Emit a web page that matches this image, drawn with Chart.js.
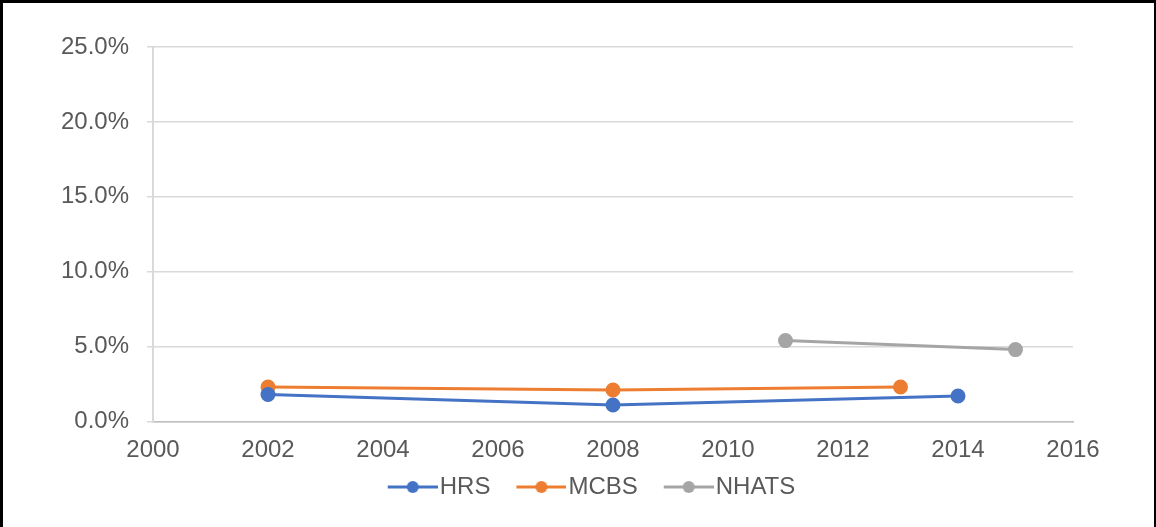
<!DOCTYPE html>
<html>
<head>
<meta charset="utf-8">
<script src="https://cdn.jsdelivr.net/npm/chart.js@4"></script>
<style>
  html, body { margin: 0; padding: 0; background: #fff; }
  #wrap { position: relative; width: 1156px; height: 527px; }
  #frame { position: absolute; left: 0; top: 0; width: 1156px; height: 527px; box-sizing: border-box;
           border-top: 3px solid #000; border-left: 3px solid #000; border-right: 2px solid #000; pointer-events: none; }
  canvas { display: block; }
</style>
</head>
<body>
<div id="wrap">
  <canvas id="c" width="1156" height="527"></canvas>
  <div id="frame"></div>
</div>
<script>
// Survey series (percent)
const hrsYears   = [2002, 2008, 2014];
const hrsValues  = [1.8, 1.1, 1.7];
const mcbsYears  = [2002, 2008, 2013];
const mcbsValues = [2.3, 2.1, 2.3];
const nhatsYears = [2011, 2015];
const nhatsValues = [5.4, 4.8];

const seriesNames = ['HRS', 'MCBS', 'NHATS'];
const seriesColors = ['#4472C4', '#ED7D31', '#A5A5A5'];

const xMin = 2000, xMax = 2016, xStep = 2;
const yMin = 0, yMax = 25, yStep = 5;

const textColor = '#595959';
const fontFamily = '"Liberation Sans", Arial, sans-serif';
const fontSize = 24;

function toPoints(xs, ys) { return xs.map((x, i) => ({ x: x, y: ys[i] })); }

// Legend marker: short line with a dot, drawn on a small canvas.
// The line begins a little after the legend box start so that entries are spaced apart,
// and runs up to just before the label text.
const legendBox = 57;
const markerGap = 17;
const textGap = 2;
function legendIcon(color) {
  const lineEnd = legendBox / 2 + fontSize / 2 - textGap;     // relative to box centre
  const lineStart = markerGap - legendBox / 2;                // relative to box centre
  const half = Math.max(Math.abs(lineStart), Math.abs(lineEnd));
  const w = Math.round(half * 2), h = 16;
  const cv = document.createElement('canvas');
  cv.width = w; cv.height = h;
  const g = cv.getContext('2d');
  const x0 = half + lineStart, x1 = half + lineEnd;
  g.strokeStyle = color; g.lineWidth = 3;
  g.beginPath(); g.moveTo(x0, h / 2); g.lineTo(x1, h / 2); g.stroke();
  g.fillStyle = color;
  g.beginPath(); g.arc((x0 + x1) / 2, h / 2, 6, 0, Math.PI * 2); g.fill();
  return cv;
}

const seriesData = [toPoints(hrsYears, hrsValues), toPoints(mcbsYears, mcbsValues), toPoints(nhatsYears, nhatsValues)];

const datasets = seriesNames.map((name, i) => ({
  label: name,
  data: seriesData[i],
  borderColor: seriesColors[i],
  backgroundColor: seriesColors[i],
  pointBackgroundColor: seriesColors[i],
  pointBorderColor: seriesColors[i],
  borderWidth: 3,
  pointRadius: 6,
  pointHoverRadius: 6,
  tension: 0,
  fill: false
}));

new Chart(document.getElementById('c'), {
  type: 'line',
  data: { datasets: datasets },
  options: {
    responsive: false,
    animation: false,
    devicePixelRatio: 1,
    layout: { padding: { left: 10, right: 0, top: 47, bottom: 18 } },
    plugins: {
      tooltip: { enabled: false },
      legend: {
        position: 'bottom',
        labels: {
          usePointStyle: true,
          pointStyleWidth: legendBox,
          padding: 9,
          color: textColor,
          font: { family: fontFamily, size: fontSize },
          generateLabels: chart => chart.data.datasets.map((ds, i) => ({
            text: ds.label,
            pointStyle: legendIcon(ds.borderColor),
            fillStyle: ds.borderColor,
            strokeStyle: ds.borderColor,
            lineWidth: 0,
            hidden: false,
            datasetIndex: i,
            fontColor: textColor
          }))
        }
      }
    },
    scales: {
      x: {
        type: 'linear',
        min: xMin, max: xMax,
        grid: { display: false, drawTicks: false },
        border: { display: true, color: '#bfbfbf', width: 1.5 },
        ticks: {
          stepSize: xStep,
          padding: 14,
          color: textColor,
          font: { family: fontFamily, size: fontSize },
          maxRotation: 0,
          callback: v => String(v)
        },
        afterFit: s => { s.height = 44.5; }
      },
      y: {
        min: yMin, max: yMax,
        grid: { color: '#d9d9d9', lineWidth: 1.5, drawTicks: true, tickLength: 6 },
        border: { display: true, color: '#d9d9d9', width: 2 },
        ticks: {
          stepSize: yStep,
          padding: 18,
          color: textColor,
          font: { family: fontFamily, size: fontSize },
          callback: v => v.toFixed(1) + '%'
        },
        afterFit: s => { s.width = 143; }
      },
      yR: {
        position: 'right',
        display: true,
        grid: { display: false, drawTicks: false },
        border: { display: false },
        ticks: { display: false },
        afterFit: s => { s.width = 83; }
      }
    }
  }
});
</script>
</body>
</html>
